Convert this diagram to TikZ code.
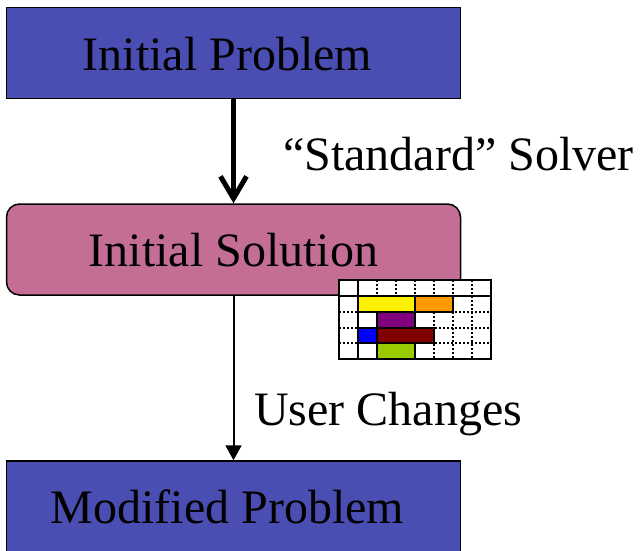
\documentclass[tikz,border=0pt]{standalone}
\usepackage{fontspec}
\setmainfont{Liberation Serif}
\usetikzlibrary{arrows.meta}

\definecolor{problemblue}{RGB}{74,77,178}
\definecolor{solutionpink}{RGB}{196,110,150}
\definecolor{barorange}{RGB}{255,153,0}
\definecolor{barpurple}{RGB}{128,0,128}
\definecolor{barred}{RGB}{128,0,0}
\definecolor{bargreen}{RGB}{153,204,0}

\tikzset{
  box/.style={draw,line width=1.5pt,minimum width=454pt,minimum height=91pt,inner sep=0pt,text height=44pt,text depth=10pt},
  caption/.style={inner sep=0pt,anchor=base west},
  griddot/.style={line width=1.5pt,dash pattern=on 1.5pt off 2.5pt},
  gridline/.style={line width=1.5pt},
  bar/.style={draw,line width=1.5pt}
}

\begin{document}
\begin{tikzpicture}[x=1pt,y=-1pt,font=\fontsize{48}{56}\selectfont]
    \clip (0,0) rectangle (641,550);

    \node[box,fill=problemblue] (problem) at (233.5,53) {Initial Problem\kern12pt};
    \node[box,fill=solutionpink,rounded corners=13pt] (solution) at (233.5,249.5) {Initial Solution};
    \node[box,fill=problemblue] (modified) at (233.5,506.5) {Modified Problem\kern12pt};

    \draw[line width=5pt,-{Straight Barb[length=22pt,width=26pt,line width=5pt]}] (problem)--(solution);
    \draw[line width=2pt,-{Triangle[length=15pt,width=16pt]}] (solution)--(modified);

    \node[caption] (solver) at (283,170) {``Standard'' Solver};
    \node[caption] (changes) at (254,425) {User Changes};

    % schedule chart
    \fill[white] (339,280) rectangle (491,359);

    \draw[griddot] (377,280)--(377,359);
    \draw[griddot] (396,280)--(396,359);
    \draw[griddot] (415,280)--(415,359);
    \draw[griddot] (434,280)--(434,359);
    \draw[griddot] (453,280)--(453,359);
    \draw[griddot] (472,280)--(472,359);
    \draw[griddot] (339,312)--(491,312);
    \draw[griddot] (339,328)--(491,328);
    \draw[griddot] (339,343)--(491,343);

    \draw[bar,fill=yellow] (358,296) rectangle (415,312);
    \draw[bar,fill=barorange] (415,296) rectangle (453,312);
    \draw[bar,fill=barpurple] (377,312) rectangle (415,328);
    \draw[bar,fill=blue] (358,328) rectangle (377,343);
    \draw[bar,fill=barred] (377,328) rectangle (434,343);
    \draw[bar,fill=bargreen] (377,343) rectangle (415,359);

    \draw[gridline] (339,280) rectangle (491,359);
    \draw[gridline] (358,280)--(358,359);
    \draw[gridline] (339,296)--(491,296);
\end{tikzpicture}
\end{document}
